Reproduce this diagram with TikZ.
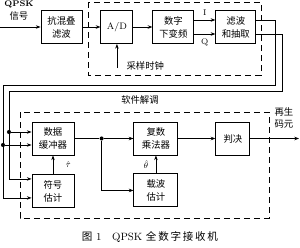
\documentclass[tikz,border=0pt]{standalone}
\usepackage{fontspec}
\newfontfamily\cjk{Noto Sans CJK SC}
\usetikzlibrary{arrows.meta,positioning,calc}

\begin{document}
\begin{tikzpicture}[x=0.3mm, y=-0.3mm, >={Stealth[length=4pt,width=3pt]},
  blk/.style={draw, line width=0.8pt, minimum height=9.9mm, inner sep=1pt, align=center, font=\cjk\fontsize{8}{11}\selectfont},
  frame/.style={draw, line width=0.6pt, dash pattern=on 1.8mm off 1.2mm},
  dot/.style={circle, fill, inner sep=0pt, minimum size=3.5pt},
  lbl/.style={font=\cjk\fontsize{8}{10}\selectfont, inner sep=1pt, align=left},
  est/.style={font=\fontsize{7}{8}\selectfont, inner sep=0.5pt},
  line width=0.6pt]
\useasboundingbox (0,0) rectangle (300,247);
% front end
\node[blk, minimum width=12.3mm] (aaf) at (61.5,27) {抗混叠\\滤波};
\node[blk, minimum width=9.6mm, font=\fontsize{8}{10}\selectfont] (ad) [right=5.4mm of aaf] {A/D};
\node[blk, minimum width=12.3mm] (ddc) [right=5.7mm of ad] {数字\\下变频};
\node[blk, minimum width=12mm] (fd) [right=6.3mm of ddc] {滤波\\和抽取};
\draw[frame] (88,2) rectangle (261,75);
\node[font=\bfseries\fontsize{7}{8}\selectfont, inner sep=0pt] (qpsk) at (19,4) {QPSK};
\node[lbl] (sig) at (19,16) {信号};
\coordinate (in) at (0,27);
\draw[->] (in) -- (aaf);
\draw[->] (aaf) -- (ad);
\draw[->] (ad) -- (ddc);
\draw[->] ([yshift=2.1mm]ddc.east) -- node[above, font=\fontsize{7}{8}\selectfont] {I} ([yshift=2.1mm]fd.west);
\draw[->] ([yshift=-2.1mm]ddc.east) -- node[below, font=\fontsize{7}{8}\selectfont] {Q} ([yshift=-2.1mm]fd.west);
\coordinate (clk) at (ad.south |- 0,68);
\draw[->] (clk) -- (ad);
\node[lbl, anchor=west] (clklbl) at (125,66) {采样时钟};
% software demodulation
\node[blk, minimum width=12.6mm] (buf) at (53,138.5) {数据\\缓冲器};
\node[blk, minimum width=12.6mm] (sym) [below=5.7mm of buf] {符号\\估计};
\node[blk, minimum width=13.2mm] (mul) [right=17.7mm of buf] {复数\\乘法器};
\node[blk, minimum width=13.2mm] (car) [below=5.4mm of mul] {载波\\估计};
\node[blk, minimum width=10.2mm] (dec) [right=11.1mm of mul] {判决};
\draw[frame] (20,112) rectangle (269,218);
\node[lbl] (sw) at (140,100) {软件解调};
\coordinate (ir) at (275,85);
\coordinate (il) at (3,85);
\coordinate (qr) at (282,91);
\coordinate (ql) at (9,91);
\coordinate (bi1) at ([yshift=1.95mm]buf.west);
\coordinate (bi2) at ([yshift=-1.95mm]buf.west);
\coordinate (si1) at ([yshift=3.75mm]sym.west);
\coordinate (si2) at ([yshift=-1.95mm]sym.west);
\draw[->] ([yshift=2.1mm]fd.east) -| (ir) -- (il) |- (si2);
\draw[->] ([yshift=-2.1mm]fd.east) -| (qr) -- (ql) |- (si1);
\node[dot] (d1) at (bi1 -| ql) {};
\node[dot] (d2) at (bi2 -| il) {};
\draw[->] (d1) -- (bi1);
\draw[->] (d2) -- (bi2);
\path (buf.east) -- (mul.west) node[dot, pos=0.46] (jn) {};
\draw (buf) -- (jn);
\draw[->] (jn) -- (mul);
\draw[->] (jn) |- (car.west);
\draw[->] (sym) -- node[est, right=3.5mm] {$\hat{\tau}$} (buf);
\draw[->] (car) -- node[est, left=2mm] {$\hat{\theta}$} (mul);
\draw[->] (mul) -- (dec);
\coordinate (out) at (dec.east -| 299,0);
\draw[->] (dec) -- (out);
\node[lbl] (outlbl) at (284,118) {再生\\码元};
% caption
\node[font=\fontsize{9}{10}\selectfont] (cap) at (150,237) {{\cjk 图}\ 1\quad QPSK\ {\cjk 全\,数\,字\,接\,收\,机}};
\end{tikzpicture}
\end{document}
